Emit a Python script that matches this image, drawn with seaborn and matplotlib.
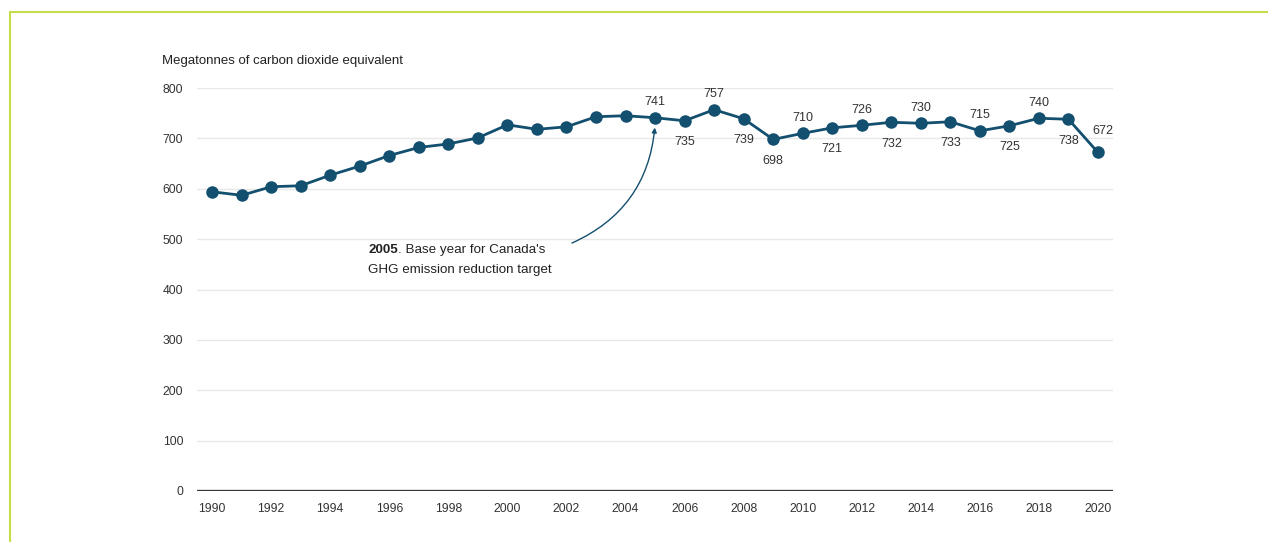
import pandas as pd
import matplotlib.pyplot as plt
import seaborn as sns
from matplotlib.patches import FancyArrowPatch

# Canada GHG emissions, megatonnes CO2 eq
years = list(range(1990, 2021))
emissions = [594, 587, 604, 606, 627, 645, 666, 682, 689, 701,
             727, 718, 723, 743, 745, 741, 735, 757, 739, 698,
             710, 721, 726, 732, 730, 733, 715, 725, 740, 738, 672]
# which labels sit above (1) or below (-1) the point, from 2005 on
label_side = {2005: 1, 2006: -1, 2007: 1, 2008: -1, 2009: -1, 2010: 1,
              2011: -1, 2012: 1, 2013: -1, 2014: 1, 2015: -1, 2016: 1,
              2017: -1, 2018: 1, 2019: -1, 2020: 1}
tick_years = list(range(1990, 2021, 2))

df = pd.DataFrame({'Year': years, 'Emissions': emissions})

sns.set_style('white')
plt.rcParams['font.family'] = ['Liberation Sans', 'DejaVu Sans']

line_color = '#134f6e'
text_color = '#333333'

fig = plt.figure(figsize=(12.68, 5.42), dpi=100)
ax = fig.add_axes([0.1554, 0.0941, 0.7224, 0.7435])

sns.lineplot(data=df, x='Year', y='Emissions', ax=ax, color=line_color,
             linewidth=2, marker='o', markersize=9, markeredgewidth=0,
             clip_on=False, zorder=5)

ax.set_xlim(1989.49, 2020.51)
ax.set_ylim(0, 800)
ax.set_yticks(range(0, 801, 100))
ax.set_xticks(tick_years)
ax.grid(axis='y', color='#e8e8e8', linewidth=1)
ax.grid(axis='x', visible=False)
for s in ax.spines.values():
    s.set_visible(False)
ax.axhline(0, color='#3a3a3a', linewidth=2.4, zorder=3)
ax.tick_params(axis='both', length=0, labelsize=8.7, colors=text_color)
ax.tick_params(axis='x', pad=9)
ax.tick_params(axis='y', pad=10)
ax.set_xlabel('')
ax.set_ylabel('')

fig.text(162 / 1268, 1 - 61 / 542, 'Megatonnes of carbon dioxide equivalent',
         fontsize=9.5, color='#222222', va='center', ha='left')

# value labels
for y, v in zip(years, emissions):
    if y not in label_side:
        continue
    side = label_side[y]
    if y == 2020:
        ax.annotate(str(v), (y, v), xytext=(3.5, 11), textcoords='offset points',
                    ha='center', va='bottom', fontsize=9, color=text_color)
    elif side > 0:
        ax.annotate(str(v), (y, v), xytext=(0, 7), textcoords='offset points',
                    ha='center', va='bottom', fontsize=9, color=text_color)
    else:
        ax.annotate(str(v), (y, v), xytext=(0, -11), textcoords='offset points',
                    ha='center', va='top', fontsize=9, color=text_color)

# annotation for base year
t = ax.text(1995.28, 478, '2005', fontsize=9.6, fontweight='bold',
            color='#222222', va='center', ha='left')
ax.annotate('. Base year for Canada\'s', xy=(1, 0.5), xycoords=t,
            fontsize=9.6, color='#222222', va='center', ha='left')
ax.text(1995.28, 438, 'GHG emission reduction target', fontsize=9.6,
        color='#222222', va='center', ha='left')
arrow = FancyArrowPatch((2002.1, 490), (2005, 727),
                        connectionstyle='arc3,rad=0.3',
                        arrowstyle='-|>', mutation_scale=7,
                        color=line_color, linewidth=1)
ax.add_patch(arrow)

# outer frame lines
fig.add_artist(plt.Line2D([10 / 1268, 1], [1 - 12 / 542, 1 - 12 / 542],
                          color='#c5dd4a', linewidth=1.5, transform=fig.transFigure))
fig.add_artist(plt.Line2D([10 / 1268, 10 / 1268], [0, 1 - 12 / 542],
                          color='#c5dd4a', linewidth=1.5, transform=fig.transFigure))

fig.savefig('out.png', dpi=100)
